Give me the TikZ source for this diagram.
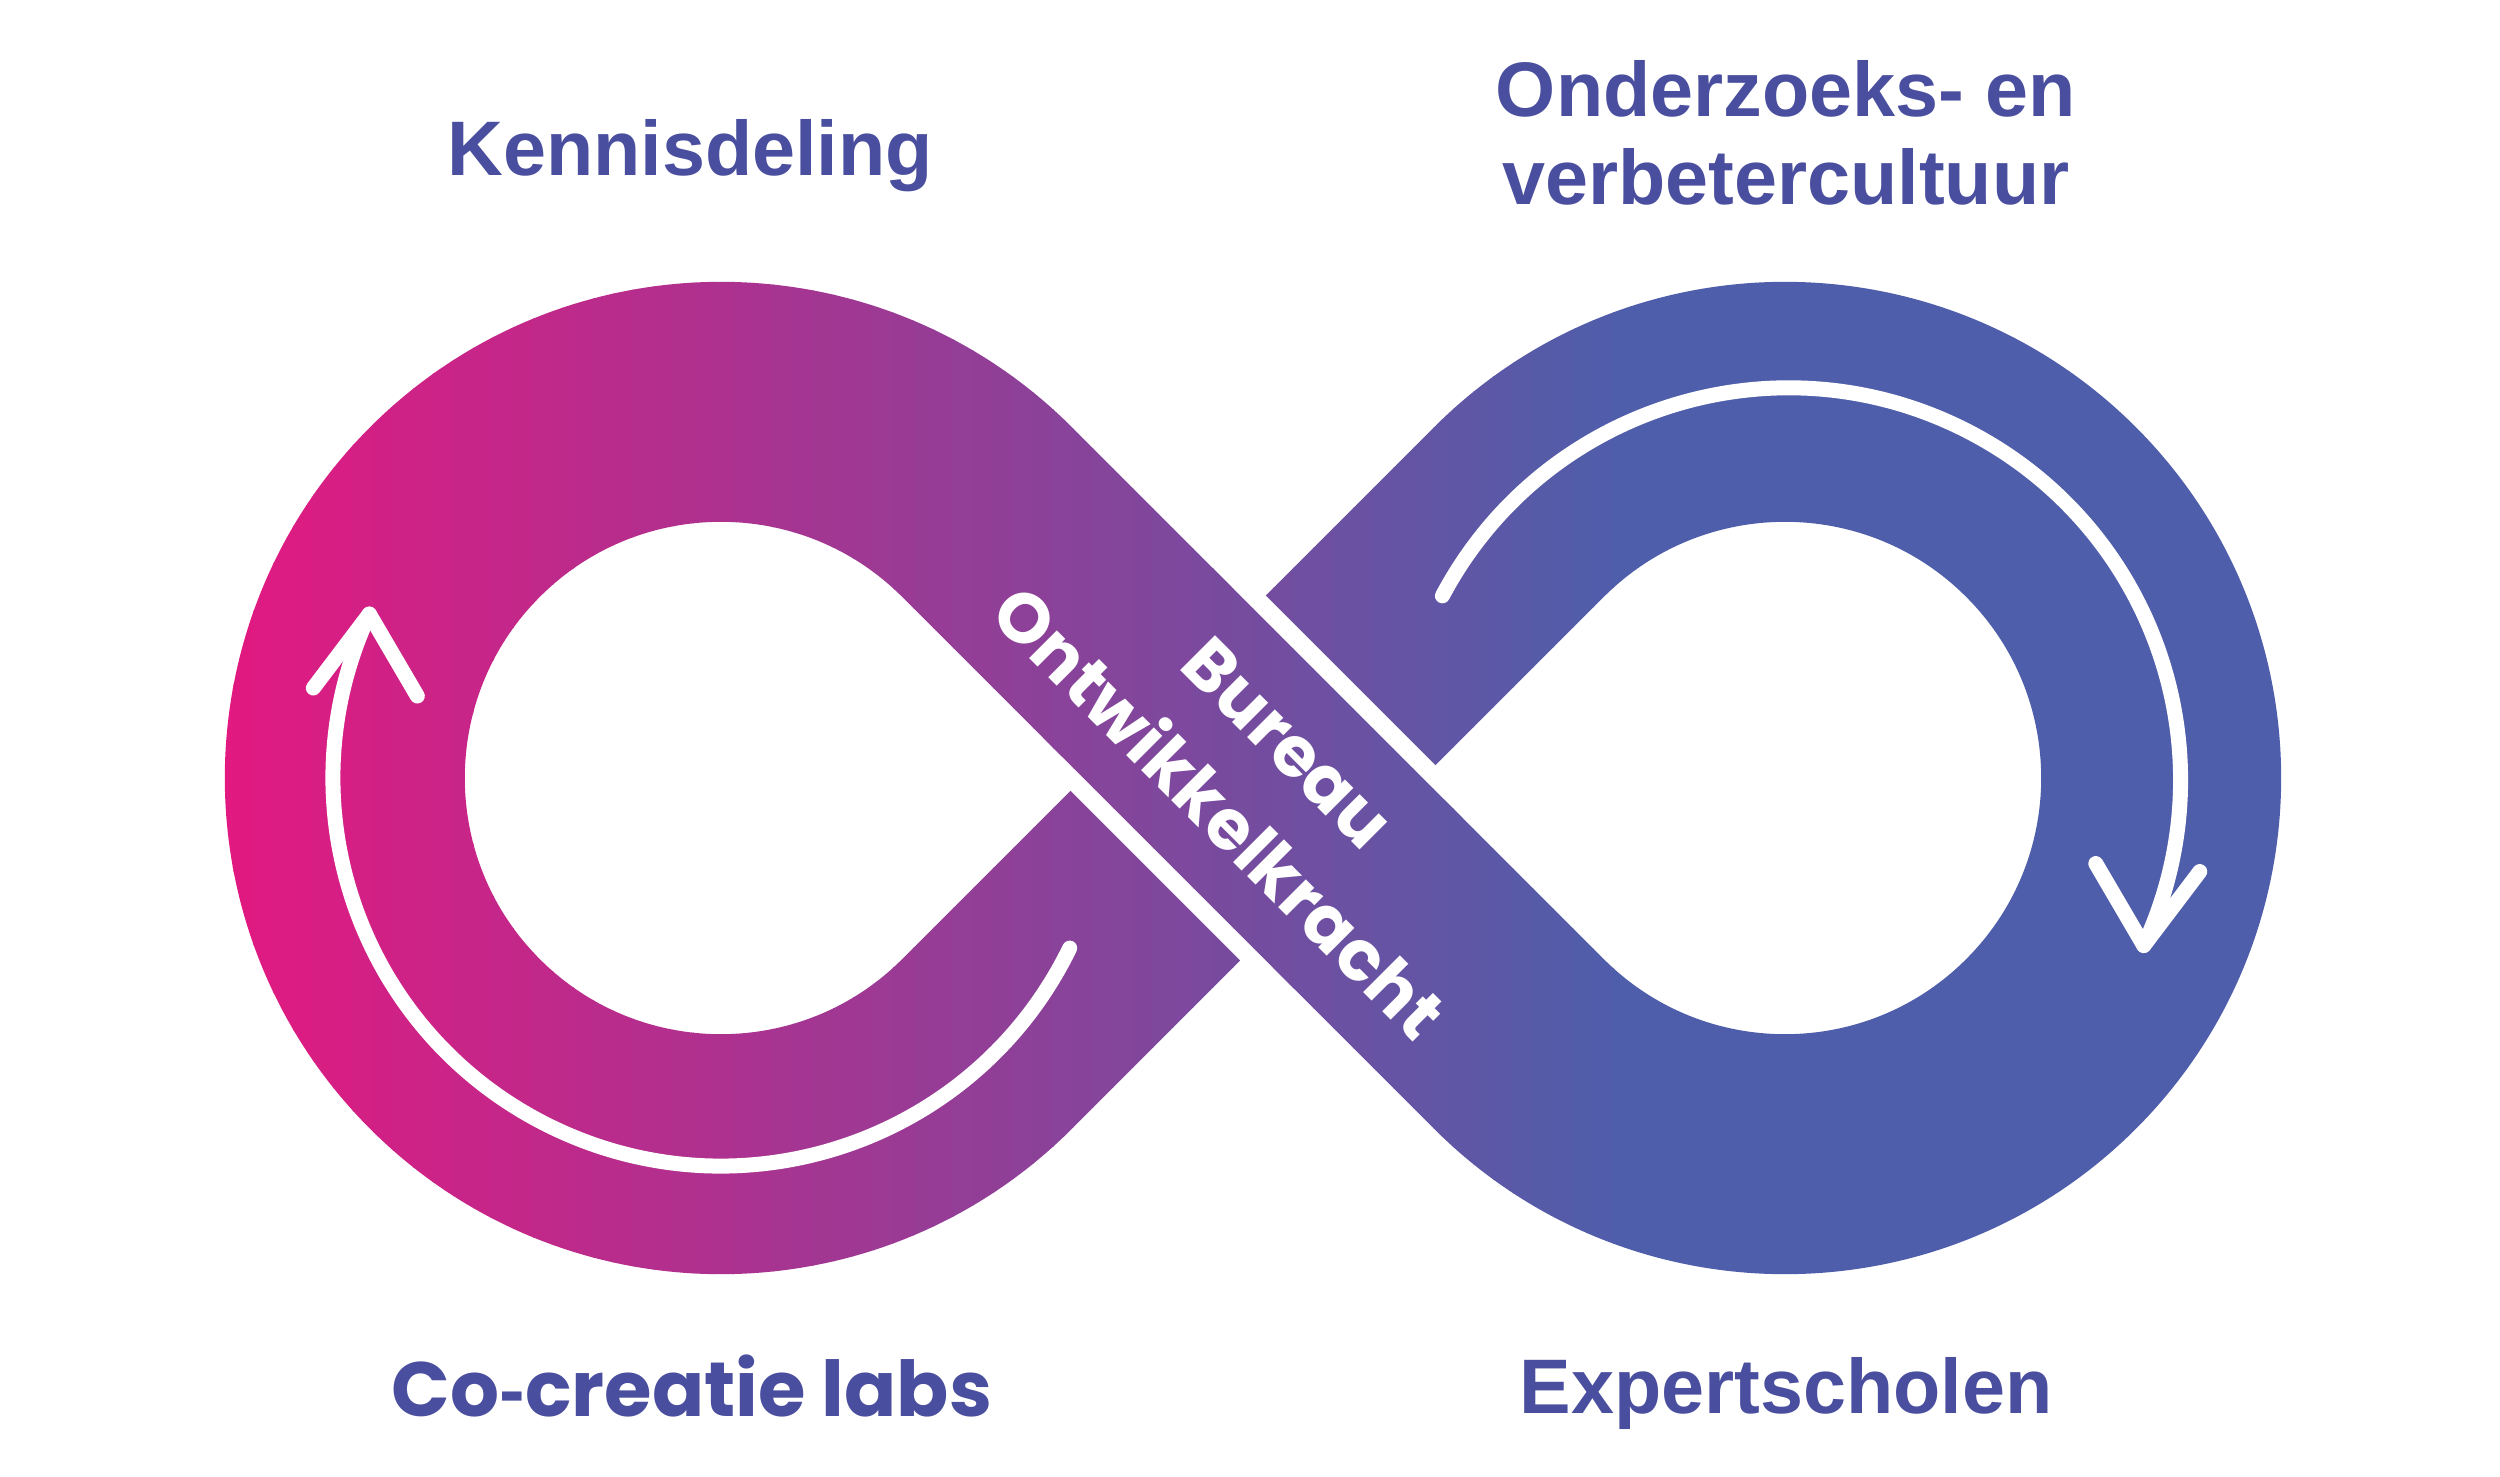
\documentclass[tikz,border=0pt]{standalone}
\usepackage{fontspec}
\setmainfont{Liberation Sans}
\newfontfamily\popfont{Poppins}
\definecolor{infpink}{RGB}{227,24,128}
\definecolor{infblue}{RGB}{79,94,170}
\definecolor{wordblue}{RGB}{74,78,158}
% centre line of the figure eight, crossing at the origin
\newcommand{\eightpath}{(-266,266) -- (266,-266) arc[start angle=-135, end angle=135, radius=376.18] -- (-266,-266) arc[start angle=-45, end angle=-315, radius=376.18] -- cycle}

\begin{document}
\begin{tikzpicture}[x=0.1mm, y=0.1mm,
	band/.style = {line width=24mm, line join=round},
	flow/.style = {white, line width=1.5mm, line cap=round, line join=round},
	word/.style = {wordblue, font=\bfseries\fontsize{22}{25}\selectfont, align=center},
	popword/.style = {wordblue, font=\popfont\bfseries\fontsize{21.9}{25}\selectfont}]
	\useasboundingbox (-1253,-698) rectangle (1247,778);
	\coordinate (lc) at (-532,0);
	\coordinate (rc) at (532,0);
	% the band, in vertical strips for the colour run
	\foreach \i in {0,...,69}{
		\pgfmathtruncatemacro\mix{round(100*(\i+0.5)/70)}
		\begin{scope}
			\clip (-1040+20*\i,-700) rectangle (-1019+20*\i,780);
			\draw[band, infblue!\mix!infpink] \eightpath;
		\end{scope}
	}
	\begin{scope}
		\clip (360,-700) rectangle (1247,780);
		\draw[band, infblue] \eightpath;
	\end{scope}
	% top band over the crossing
	\draw[white, line width=27.6mm] (-106,106) -- (106,-106);
	\foreach \i in {40,...,62}{
		\pgfmathtruncatemacro\mix{round(100*(\i+0.5)/70)}
		\begin{scope}
			\clip (-1040+20*\i,-700) rectangle (-1019+20*\i,780);
			\draw[band, infblue!\mix!infpink] (-125,125) -- (125,-125);
		\end{scope}
	}
	% arrows
	\draw[flow] ([shift={(-26:388)}]lc) arc[start angle=-26, end angle=-205, radius=388] coordinate (ltip);
	\draw[flow] ([shift={(-56,-74)}]ltip) -- (ltip) -- ([shift={(48,-82)}]ltip);
	\draw[flow] ([shift={(152:388)}]rc) arc[start angle=152, end angle=-25, radius=392] coordinate (rtip);
	\draw[flow] ([shift={(56,74)}]rtip) -- (rtip) -- ([shift={(-48,82)}]rtip);
	\node[white, rotate=-45, align=center, font=\popfont\bfseries\fontsize{20}{28}\selectfont] (bureau) at (0,0) {Bureau\\Ontwikkelkracht};
	\node[word, anchor=base] (kennis) at (-563,603) {Kennisdeling};
	\node[word] (onderzoek) at (533,645) {Onderzoeks- en\\verbetercultuur};
	\node[popword, anchor=base] (cocreatie) at (-561,-638) {Co{\rmfamily -}creatie labs};
	\node[word, anchor=base] (expert) at (533,-635) {Expertscholen};
\end{tikzpicture}
\end{document}
